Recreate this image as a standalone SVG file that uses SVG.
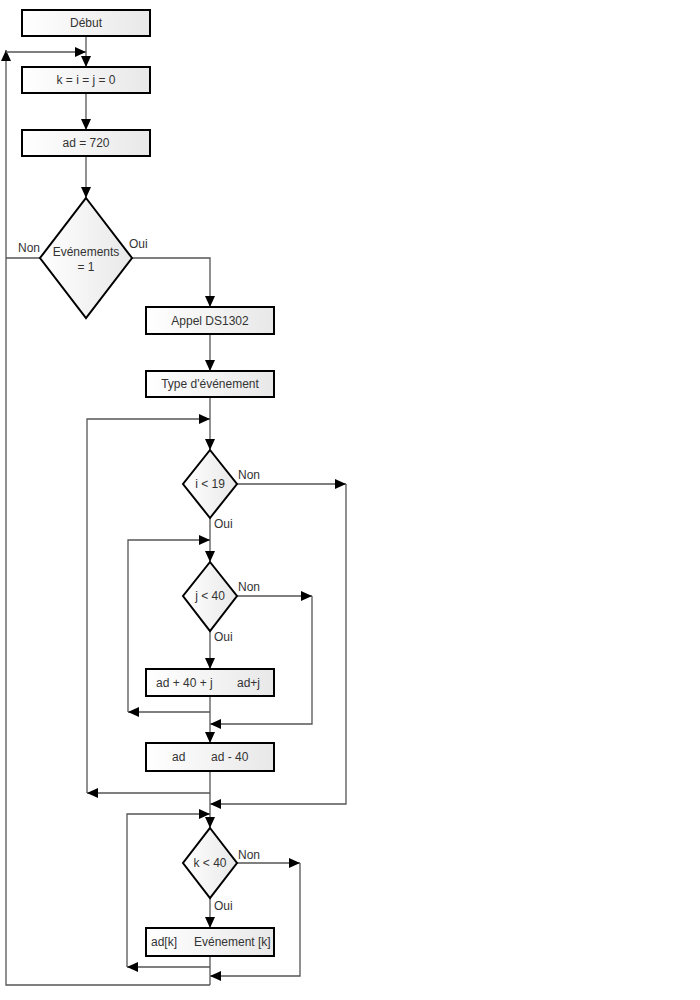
<svg xmlns="http://www.w3.org/2000/svg" width="700" height="1000" viewBox="0 0 700 1000">
<defs>
<linearGradient id="g" x1="0" y1="0" x2="1" y2="0">
<stop offset="0" stop-color="#ffffff"/>
<stop offset="1" stop-color="#e8e8e8"/>
</linearGradient>
<marker id="a" markerUnits="userSpaceOnUse" markerWidth="12" markerHeight="10" refX="11" refY="5" orient="auto">
<path d="M0,0 L11,5 L0,10 Z" fill="#000"/>
</marker>
</defs>
<style>
.n{fill:url(#g);stroke:#000;stroke-width:2}
.t{font-family:"Liberation Sans",Arial,sans-serif;font-size:12px;fill:#333}
.c{text-anchor:middle}
.e{fill:none;stroke:#555;stroke-width:1.3}
.e.m{marker-end:url(#a)}
</style>
<rect width="700" height="1000" fill="#fff"/>
<g id="connectors">
<line class="e m" x1="86" y1="36" x2="86" y2="67"/>
<path class="e m" d="M210,985 H6 V50"/>
<line class="e m" x1="6" y1="52" x2="86" y2="52"/>
<line class="e m" x1="86" y1="93" x2="86" y2="130"/>
<line class="e m" x1="86" y1="156" x2="86" y2="198"/>
<line class="e" x1="40" y1="258" x2="6" y2="258"/>
<path class="e m" d="M132,258 H210 V307"/>
<line class="e m" x1="210" y1="334" x2="210" y2="371"/>
<line class="e m" x1="210" y1="397" x2="210" y2="450"/>
<line class="e m" x1="210" y1="793" x2="87" y2="793"/>
<path class="e m" d="M87,793 V419 H210"/>
<line class="e m" x1="237" y1="484" x2="346" y2="484"/>
<path class="e m" d="M346,484 V804 H210"/>
<line class="e m" x1="210" y1="518" x2="210" y2="562"/>
<line class="e m" x1="210" y1="712" x2="128" y2="712"/>
<path class="e m" d="M128,712 V540 H210"/>
<line class="e m" x1="237" y1="596" x2="312" y2="596"/>
<path class="e m" d="M312,596 V724 H210"/>
<line class="e m" x1="210" y1="631" x2="210" y2="669"/>
<line class="e m" x1="210" y1="696" x2="210" y2="743"/>
<line class="e m" x1="210" y1="771" x2="210" y2="828"/>
<line class="e m" x1="210" y1="967" x2="127" y2="967"/>
<path class="e m" d="M127,967 V814 H210"/>
<line class="e m" x1="237" y1="863" x2="300" y2="863"/>
<path class="e m" d="M300,863 V976 H210"/>
<line class="e m" x1="210" y1="898" x2="210" y2="928"/>
<line class="e" x1="210" y1="956" x2="210" y2="985"/>
<text class="t" x="18" y="252">Non</text>
<text class="t" x="129" y="248">Oui</text>
<text class="t" x="238" y="479">Non</text>
<text class="t" x="214" y="528">Oui</text>
<text class="t" x="238" y="591">Non</text>
<text class="t" x="214" y="641">Oui</text>
<text class="t" x="238" y="859">Non</text>
<text class="t" x="214" y="910">Oui</text>
</g>
<g id="debut"><rect class="n" x="22" y="10" width="128" height="26"/><text class="t c" x="86" y="27">Début</text></g>
<g id="init"><rect class="n" x="22" y="67" width="128" height="26"/><text class="t c" x="86" y="84">k = i = j = 0</text></g>
<g id="ad720"><rect class="n" x="22" y="130" width="128" height="26"/><text class="t c" x="86" y="147">ad = 720</text></g>
<g id="evenements"><path class="n" d="M86,198 L132,258 L86,318 L40,258 Z"/><text class="t c" x="86" y="256">Evénements</text><text class="t c" x="86" y="271">= 1</text></g>
<g id="appel"><rect class="n" x="146" y="307" width="128" height="27"/><text class="t c" x="210" y="325">Appel DS1302</text></g>
<g id="type"><rect class="n" x="146" y="371" width="128" height="26"/><text class="t c" x="210" y="388">Type d'événement</text></g>
<g id="i19"><path class="n" d="M210,450 L237,484 L210,518 L183,484 Z"/><text class="t c" x="210" y="488">i &lt; 19</text></g>
<g id="j40"><path class="n" d="M210,562 L237,596 L210,631 L183,596 Z"/><text class="t c" x="210" y="600">j &lt; 40</text></g>
<g id="adj"><rect class="n" x="146" y="669" width="128" height="27"/><text class="t" x="156" y="687">ad + 40 + j</text><text class="t" x="237" y="687">ad+j</text></g>
<g id="ad40"><rect class="n" x="146" y="743" width="128" height="28"/><text class="t" x="172" y="761">ad</text><text class="t" x="211" y="761">ad - 40</text></g>
<g id="k40"><path class="n" d="M210,828 L237,863 L210,898 L183,863 Z"/><text class="t c" x="210" y="867">k &lt; 40</text></g>
<g id="adk"><rect class="n" x="146" y="928" width="128" height="28"/><text class="t" x="151" y="946">ad[k]</text><text class="t" x="194" y="946">Evénement [k]</text></g>
</svg>
